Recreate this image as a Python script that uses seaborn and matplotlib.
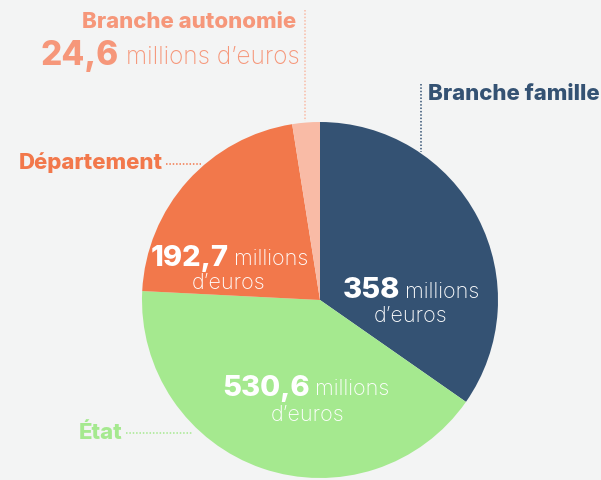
import matplotlib
matplotlib.use("Agg")
import matplotlib.pyplot as plt
import seaborn as sns

branches = ["Branche famille", "État", "Département", "Branche autonomie"]
slice_share = [34.7, 41.1, 21.7, 2.5]
value_labels = ["358", "530,6", "192,7", "24,6"]
colors = ["#345273", "#a5e98f", "#f2784b", "#f9bba6"]
label_colors = ["#345273", "#a5e98f", "#f2784b", "#f6977a"]

sns.set_theme(style="white")
plt.rcParams["font.family"] = ["Inter", "DejaVu Sans"]

BG = "#f3f4f4"
W, H = 601, 480
fig = plt.figure(figsize=(W / 100, H / 100), dpi=100, facecolor=BG)
ax = fig.add_axes([0, 0, 1, 1])
ax.set_facecolor(BG)

cx, cy, r = 320, H - 300, 178
ax.pie(slice_share, colors=colors, startangle=90, counterclock=False,
       center=(cx, cy), radius=r, wedgeprops=dict(linewidth=0))
ax.set_xlim(0, W)
ax.set_ylim(0, H)
ax.set_aspect("auto")
ax.axis("off")

bold = dict(fontweight="heavy")
light = dict(fontweight="light")

def y(py):
    return H - py

# values inside slices (number bold + unit light)
def inside(split_x, py1, py2, x2, num):
    ax.text(split_x - 3, y(py1), num, color="white", fontsize=21, ha="right",
            va="center", **bold)
    ax.text(split_x + 2, y(py1 + 1), "millions", color="white", fontsize=15.5,
            ha="left", va="center", **light)
    ax.text(x2, y(py2), "d’euros", color="white", fontsize=15.5, ha="center",
            va="center", **light)

inside(403, 291, 316, 411, value_labels[0])
inside(313, 388, 415, 308, value_labels[1])
inside(232, 258, 283, 229, value_labels[2])

# outside labels
dot = dict(linestyle=(0, (1, 1.2)), linewidth=1.1)

ax.text(428, y(94), branches[0], color=label_colors[0], fontsize=16,
        ha="left", va="center", **bold)
ax.plot([421, 421], [y(84), y(152)], color=label_colors[0], **dot)

ax.text(122, y(433), branches[1], color=label_colors[1], fontsize=16,
        ha="right", va="center", **bold)
ax.plot([126, 193], [y(433), y(433)], color=label_colors[1], **dot)

ax.text(163, y(163), branches[2], color=label_colors[2], fontsize=16,
        ha="right", va="center", **bold)
ax.plot([166, 201], [y(164), y(164)], color=label_colors[2], **dot)

ax.text(296, y(22), branches[3], color=label_colors[3], fontsize=16,
        ha="right", va="center", **bold)
ax.text(119, y(56), value_labels[3], color=label_colors[3], fontsize=24,
        ha="right", va="center", **bold)
ax.text(126, y(57), "millions d’euros", color=label_colors[3], fontsize=17.5,
        ha="left", va="center", **light)
ax.plot([305, 305], [y(10), y(121)], color="#f9bba6", **dot)

fig.savefig("out.png", dpi=100, facecolor=BG)
